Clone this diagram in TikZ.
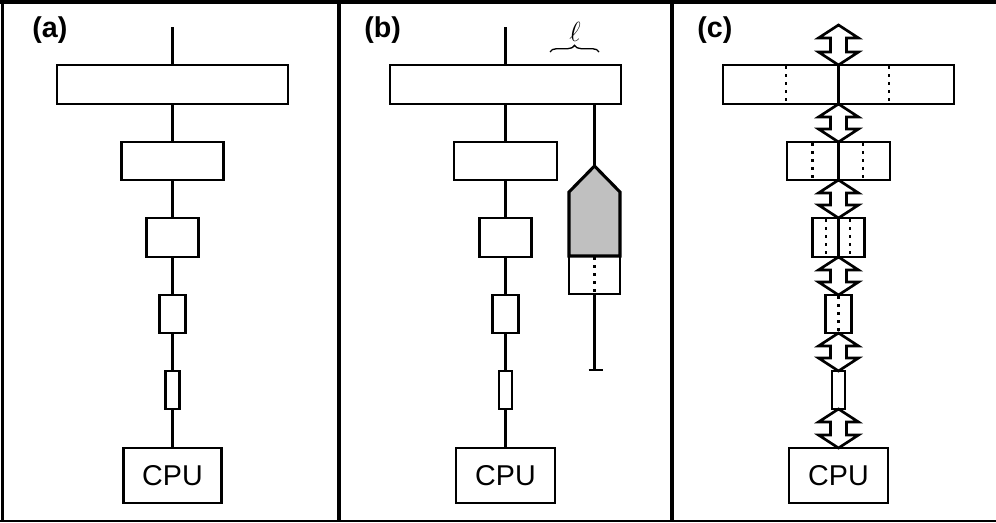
\documentclass[tikz,border=0pt]{standalone}
\usepackage{fontspec}
\setmainfont{Liberation Sans}
\usetikzlibrary{calc,decorations.pathreplacing}
\definecolor{shade}{HTML}{C0C0C0}
\tikzset{
  bx/.style 2 args={draw, line width=1.8pt, fill=white, inner sep=0pt, outer sep=0pt,
    minimum width=#1*0.75pt, minimum height=#2*0.75pt},
  conn/.style={line width=1.8pt},
  frameline/.style={line width=2.8pt},
  dotline/.style={line width=2.2pt, dash pattern=on 1.9pt off 4.1pt},
  dblarrow/.style={line width=2pt, fill=white, line join=miter},
  penta/.style={line width=2.3pt, fill=shade, line join=miter},
  panellabel/.style={font=\bfseries\fontsize{21.5}{25}\selectfont, anchor=base west, inner sep=0pt},
  cputext/.style={font=\fontsize{21.5}{26}\selectfont}
}
\newcommand{\dbl}[2]{%
  \draw[dblarrow] (#1) -- ($(#1)+(20,13)$) -- ($(#1)+(8,13)$) -- ($(#2)+(8,-13)$)
    -- ($(#2)+(20,-13)$) -- (#2) -- ($(#2)+(-20,-13)$) -- ($(#2)+(-8,-13)$)
    -- ($(#1)+(-8,13)$) -- ($(#1)+(-20,13)$) -- cycle;}
\begin{document}
\begin{tikzpicture}[x=0.75pt, y=-0.75pt]
\useasboundingbox (0,0) rectangle (996,522);
% frame
\draw[frameline] (0,2) -- (996,2);
\draw[frameline] (2.5,0) -- (2.5,522);
\draw[frameline] (339,0) -- (339,522);
\draw[frameline] (672,0) -- (672,522);
\draw[line width=1.2pt] (0,520.8) -- (996,520.8);

% ---------------- panel (a)
\node[panellabel] (la) at (32,37.5) {(a)};
\coordinate (atop) at (172.5,27);
\node[bx={231}{39}] (a1) at (172.5,84.5) {};
\node[bx={102}{38}] (a2) at (172.5,161) {};
\node[bx={52}{39}]  (a3) at (172.5,237.5) {};
\node[bx={26}{38}]  (a4) at (172.5,314) {};
\node[bx={14}{38}]  (a5) at (172.5,390) {};
\node[bx={98}{55}, cputext] (aC) at (172.5,475.5) {CPU};
\draw[conn] (atop) -- (a1) (a1) -- (a2) (a2) -- (a3) (a3) -- (a4) (a4) -- (a5) (a5) -- (aC);

% ---------------- panel (b)
\node[panellabel] (lb) at (364,37.5) {(b)};
\coordinate (btop) at (505.5,27);
\node[bx={231}{39}] (b1) at (505.5,84.5) {};
\node[bx={103}{38}] (b2) at (505.5,161) {};
\node[bx={52}{39}]  (b3) at (505.5,237.5) {};
\node[bx={26}{38}]  (b4) at (505.5,314) {};
\node[bx={13}{38}]  (b5) at (505.5,390) {};
\node[bx={99}{55}, cputext] (bC) at (505.5,475.5) {CPU};
\draw[conn] (btop) -- (b1) (b1) -- (b2) (b2) -- (b3) (b3) -- (b4) (b4) -- (b5) (b5) -- (bC);
% side branch
\coordinate (bapex) at (594.5,166);
\coordinate (bend) at (594.5,370);
\node[bx={51}{38}, line width=2pt] (bw) at (594.5,275) {};
\draw[conn] (bapex |- b1.south) -- (bapex);
\draw[penta] (bapex) -- ($(bw.north east)+(0,-64)$) -- (bw.north east) -- (bw.north west)
  -- ($(bw.north west)+(0,-64)$) -- cycle;
\draw[dotline] ($(bw.north)+(0,1)$) -- (bw.south);
\draw[conn] (bw.south) -- (bend);
\draw[conn] ($(bend)+(-6,0)$) -- ($(bend)+(8,0)$);
% brace and label
\coordinate (brl) at (550,52);
\coordinate (brr) at (599,52);
\draw[line width=1pt, decorate, decoration={brace, amplitude=5pt}] (brl) -- (brr);
\node[font=\fontsize{20}{24}\selectfont, inner sep=0pt] (ell) at (575,32) {$\ell$};

% ---------------- panel (c)
\node[panellabel] (lc) at (697,37.5) {(c)};
\coordinate (ctop) at (838.5,25);
\node[bx={231}{39}] (c1) at (838.5,84.5) {};
\node[bx={103}{38}] (c2) at (838.5,161) {};
\node[bx={52}{39}]  (c3) at (838.5,237.5) {};
\node[bx={26}{38}]  (c4) at (838.5,314) {};
\node[bx={13}{38}]  (c5) at (838.5,390) {};
\node[bx={99}{55}, cputext] (cC) at (838.5,475.5) {CPU};
% inner lines
\draw[conn] (c1.north) -- (c1.south);
\draw[conn] (c2.north) -- (c2.south);
\draw[conn] (c3.north) -- (c3.south);
\foreach \n/\d in {c1/-52.5, c1/50.5, c2/-26, c2/24.5, c3/-12.5, c3/11.5, c4/0} {
  \draw[dotline] ($(\n.north)+(\d,1)$) -- ($(\n.south)+(\d,0)$);
}
% double arrows
\dbl{ctop}{c1.north}
\dbl{c1.south}{c2.north}
\dbl{c2.south}{c3.north}
\dbl{c3.south}{c4.north}
\dbl{c4.south}{c5.north}
\dbl{c5.south}{cC.north}
\end{tikzpicture}
\end{document}
